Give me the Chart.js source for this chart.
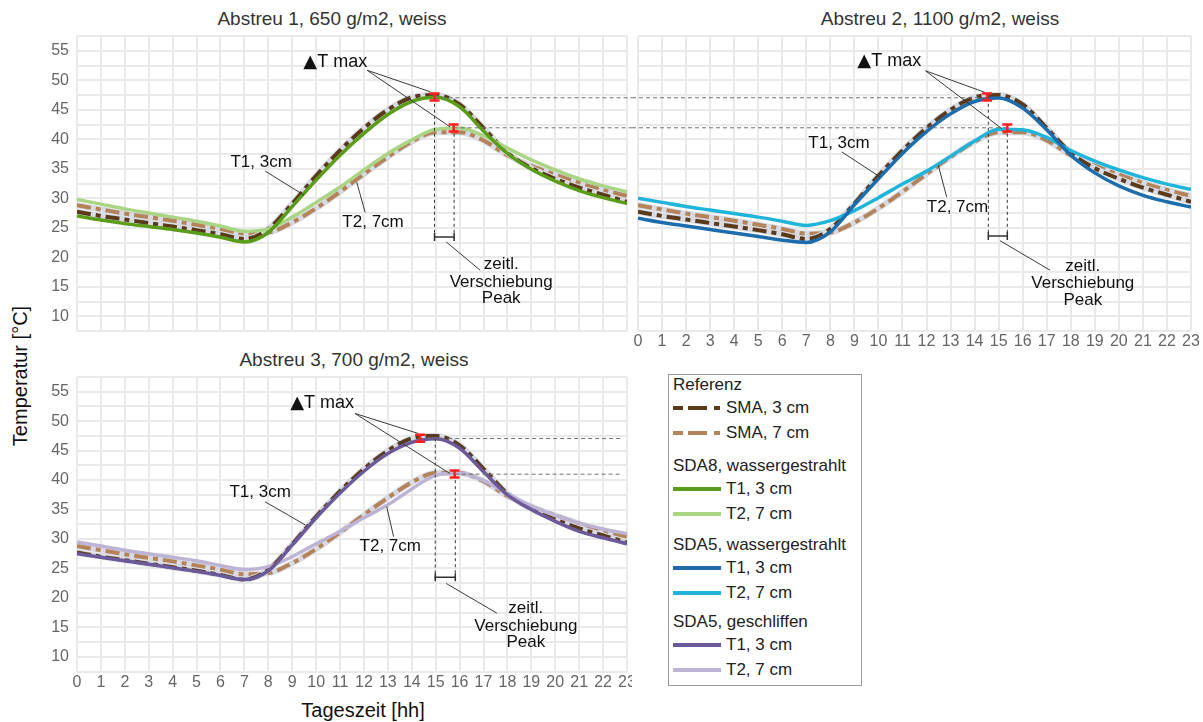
<!DOCTYPE html>
<html>
<head>
<meta charset="utf-8">
<title>Temperaturverlauf Abstreu</title>
<script src="https://cdn.jsdelivr.net/npm/chart.js@4.4.1/dist/chart.umd.min.js"></script>
<style>
  body { margin: 0; background: #fff; font-family: "Liberation Sans", Arial, sans-serif; }
  #page { position: relative; width: 1203px; height: 722px; overflow: hidden; }
  #page canvas { position: absolute; }
  .lbl { position: absolute; white-space: nowrap; transform: translate(-50%, -50%); }
  .ttl { font-size: 19px; color: #333; }
  .axt { font-size: 20px; color: #111; }
  #legend { position: absolute; left: 668px; top: 374px; width: 194px; height: 312px;
            border: 1px solid #9a9a9a; box-sizing: border-box; font-size: 17px; color: #222; }
  .lg-h { height: 20px; line-height: 20px; padding-left: 4px; white-space: nowrap; }
  .lg-i { height: 25px; display: flex; align-items: center; padding-left: 4px; white-space: nowrap; }
  .lg-i svg { margin-right: 5px; }
</style>
</head>
<body>
<div id="page">
  <div class="lbl ttl" style="left:332px;top:19px">Abstreu 1, 650 g/m2, weiss</div>
  <div class="lbl ttl" style="left:940px;top:19px">Abstreu 2, 1100 g/m2, weiss</div>
  <div class="lbl ttl" style="left:354px;top:360px">Abstreu 3, 700 g/m2, weiss</div>
  <div class="lbl axt" style="left:20px;top:376px;transform:translate(-50%,-50%) rotate(-90deg)">Temperatur [°C]</div>
  <div class="lbl axt" style="left:363px;top:710px">Tageszeit [hh]</div>

  <canvas id="c1" width="632" height="345" style="left:0;top:0"></canvas>
  <canvas id="c2" width="571" height="350" style="left:632px;top:0"></canvas>
  <canvas id="c3" width="632" height="377" style="left:0;top:345px"></canvas>

  <div id="legend"></div>
</div>

<script>
// hours of the day
const hours = [0, 1, 2, 3, 4, 5, 6, 7, 8, 9, 10, 11, 12, 13, 14, 15, 16, 17, 18, 19, 20, 21, 22, 23];

// Referenz SMA (same in all three panels)
const sma3 = [27.7, 27.0, 26.4, 25.8, 25.2, 24.6, 23.9, 23.1, 24.8, 29.1, 33.8, 38.1, 41.9, 45.0, 47.1, 47.5, 45.9, 41.9, 37.7, 35.1, 33.3, 31.8, 30.6, 29.4];
const sma7 = [28.8, 28.1, 27.4, 26.8, 26.2, 25.5, 24.8, 24.0, 24.2, 25.9, 28.3, 31.1, 34.1, 37.0, 39.6, 41.2, 41.2, 39.8, 37.3, 35.5, 34.0, 32.6, 31.4, 30.4];

// Abstreu 1 - SDA8, wassergestrahlt
const sda8T1 = [27.0, 26.3, 25.7, 25.2, 24.7, 24.1, 23.4, 22.6, 24.2, 28.6, 33.1, 37.3, 41.0, 44.2, 46.4, 47.1, 45.5, 41.4, 37.6, 34.9, 32.9, 31.3, 30.1, 29.1];
const sda8T2 = [29.8, 29.0, 28.2, 27.5, 26.8, 26.1, 25.3, 24.4, 24.8, 26.8, 29.3, 31.9, 34.8, 37.6, 39.9, 41.7, 41.9, 40.6, 38.5, 36.5, 34.8, 33.3, 32.1, 31.1];

// Abstreu 2 - SDA5, wassergestrahlt
const sda5wT1 = [26.6, 25.9, 25.3, 24.7, 24.1, 23.5, 22.9, 22.5, 24.3, 28.9, 33.3, 37.6, 41.3, 44.3, 46.4, 47.0, 45.3, 41.6, 37.3, 34.3, 32.1, 30.5, 29.4, 28.5];
const sda5wT2 = [30.0, 29.3, 28.6, 28.0, 27.4, 26.8, 26.1, 25.4, 26.2, 27.9, 30.1, 32.4, 34.6, 37.1, 39.7, 41.7, 41.6, 40.3, 38.1, 36.3, 34.8, 33.5, 32.4, 31.5];

// Abstreu 3 - SDA5, geschliffen
const sda5gT1 = [27.5, 26.9, 26.3, 25.7, 25.1, 24.5, 23.8, 23.1, 24.6, 29.0, 33.6, 37.8, 41.5, 44.5, 46.4, 47.0, 45.4, 41.4, 37.5, 35.0, 33.0, 31.3, 30.2, 29.2];
const sda5gT2 = [29.5, 28.8, 28.1, 27.5, 26.9, 26.3, 25.5, 24.8, 25.3, 27.0, 29.2, 31.3, 33.6, 35.8, 38.5, 40.8, 41.2, 39.9, 37.7, 35.6, 34.0, 32.7, 31.7, 30.9];

const yTickLabels = [10, 15, 20, 25, 30, 35, 40, 45, 50, 55];

const colors = {
    sma3: '#5b3a1c', sma7: '#b5835a', halo: '#d7dae2',
    sda8T1: '#5b9c1a', sda8T2: '#a9d585',
    sda5wT1: '#1d6cab', sda5wT2: '#1fb4da',
    sda5gT1: '#6b5a99', sda5gT2: '#bdb3d4'
};

const FONT = '"Liberation Sans", "DejaVu Sans", Arial, sans-serif';
Chart.defaults.font.family = FONT;

// annotation anchors, in data units (hours, °C)
const notes1 = {
    tmax: { at: [10.8, 53.1], from: [12.13, 51.7], to: [[14.77, 48.05], [15.6, 42.1]] },
    marks: [[14.95, 47.15], [15.75, 41.9]],
    level: [{ y: 47.03, x0: 14.95, x1: 'right' }, { y: 41.94, x0: 15.75, x1: 'right' }],
    drop: { x: [14.95, 15.77], top: [47.03, 41.94], bottom: 23.0, bar: 23.45 },
    shift: { from: [15.44, 22.6], to: [16.86, 17.8], at: [17.74, [18.8, 15.8, 13.0]] },
    t1: { at: [7.7, 36.1], from: [7.87, 34.6], to: [9.5, 30.5] },
    t2: { at: [12.38, 25.9], from: [12.05, 27.6], to: [11.7, 32.7] }
};
const notes2 = {
    tmax: { at: [10.45, 53.25], from: [11.96, 51.6], to: [[14.43, 47.94], [15.13, 41.8]] },
    marks: [[14.52, 47.15], [15.36, 41.9]],
    level: [{ y: 47.03, x0: 'left', x1: 14.57 }, { y: 41.94, x0: 'left', x1: 15.36 }],
    drop: { x: [14.57, 15.36], top: [47.03, 41.94], bottom: 23.2, bar: 23.6 },
    shift: { from: [15.06, 22.8], to: [17.14, 17.8], at: [18.5, [18.5, 15.6, 12.7]] },
    t1: { at: [8.36, 39.3], from: [8.47, 37.87], to: [10.07, 33.6] },
    t2: { at: [13.29, 28.5], from: [12.84, 30.2], to: [12.49, 35.6] }
};
const notes3 = {
    tmax: { at: [10.25, 53.1], from: [11.63, 51.3], to: [[14.28, 47.9], [15.6, 41.1]] },
    marks: [[14.35, 47.1], [15.79, 41.05]],
    level: [{ y: 47.05, x0: 14.35, x1: 22.72 }, { y: 41.0, x0: 15.79, x1: 22.72 }],
    drop: { x: [14.98, 15.82], top: [47.05, 41.0], bottom: 23.0, bar: 23.5 },
    shift: { from: [15.44, 22.45], to: [17.56, 17.4], at: [18.77, [18.27, 15.2, 12.5]] },
    t1: { at: [7.66, 38.0], from: [7.87, 36.3], to: [9.54, 32.4] },
    t2: { at: [13.1, 28.7], from: [13.24, 30.4], to: [12.95, 35.5] }
};

// draws the ΔT max / peak shift annotations
const notesPlugin = {
    id: 'notes',
    afterDatasetsDraw(chart, args, n) {
        if (!n || !n.tmax) return;
        const ctx = chart.ctx, sx = chart.scales.x, sy = chart.scales.y;
        const px = h => h === 'left' ? 0 : (h === 'right' ? chart.width : sx.getPixelForValue(h));
        const py = v => sy.getPixelForValue(v);
        const seg = (a, b) => {
            ctx.beginPath();
            ctx.moveTo(px(a[0]), py(a[1]));
            ctx.lineTo(px(b[0]), py(b[1]));
            ctx.stroke();
        };
        ctx.save();

        // horizontal dashed level lines
        ctx.strokeStyle = '#707070';
        ctx.lineWidth = 1;
        ctx.setLineDash([4, 3]);
        n.level.forEach(l => seg([l.x0, l.y], [l.x1, l.y]));

        // vertical dashed drop lines
        ctx.strokeStyle = '#333';
        ctx.setLineDash([3, 3]);
        n.drop.x.forEach((h, i) => seg([h, n.drop.top[i]], [h, n.drop.bottom]));
        ctx.setLineDash([]);

        // peak shift bar
        ctx.lineWidth = 1.5;
        const bx0 = px(n.drop.x[0]), bx1 = px(n.drop.x[1]), by = py(n.drop.bar);
        ctx.beginPath();
        ctx.moveTo(bx0, by); ctx.lineTo(bx1, by);
        ctx.moveTo(bx0, by - 4); ctx.lineTo(bx0, by + 4);
        ctx.moveTo(bx1, by - 4); ctx.lineTo(bx1, by + 4);
        ctx.stroke();

        // leader lines
        ctx.strokeStyle = '#3a3a3a';
        ctx.lineWidth = 1;
        n.tmax.to.forEach(t => seg(n.tmax.from, t));
        seg(n.shift.from, n.shift.to);
        seg(n.t1.from, n.t1.to);
        seg(n.t2.from, n.t2.to);

        // red peak markers
        ctx.strokeStyle = '#ff1f1f';
        ctx.lineWidth = 2.5;
        n.marks.forEach(m => {
            const x = px(m[0]), y = py(m[1]);
            ctx.beginPath();
            ctx.moveTo(x - 5, y - 3.5); ctx.lineTo(x + 5, y - 3.5);
            ctx.moveTo(x - 5, y + 3.5); ctx.lineTo(x + 5, y + 3.5);
            ctx.moveTo(x, y - 3.5); ctx.lineTo(x, y + 3.5);
            ctx.stroke();
        });

        // texts
        ctx.fillStyle = '#111';
        ctx.textBaseline = 'middle';
        ctx.textAlign = 'left';
        const tri = '18px "DejaVu Sans", sans-serif', tt = '18px ' + FONT;
        ctx.font = tri;
        const wTri = ctx.measureText('▲').width;
        ctx.font = tt;
        const wTxt = ctx.measureText('T max').width;
        const tx = px(n.tmax.at[0]) - (wTri + wTxt) / 2, ty = py(n.tmax.at[1]);
        ctx.font = tri;
        ctx.fillText('▲', tx, ty);
        ctx.font = tt;
        ctx.fillText('T max', tx + wTri, ty);

        ctx.textAlign = 'center';
        ctx.font = '17px ' + FONT;
        ctx.fillText('T1, 3cm', px(n.t1.at[0]), py(n.t1.at[1]));
        ctx.fillText('T2, 7cm', px(n.t2.at[0]), py(n.t2.at[1]));
        ['zeitl.', 'Verschiebung', 'Peak'].forEach((s, i) => {
            ctx.fillText(s, px(n.shift.at[0]), py(n.shift.at[1][i]));
        });
        ctx.restore();
    }
};

function lineSet(data, color, width, dash, order) {
    return {
        data: data, borderColor: color, borderWidth: width, borderDash: dash || [],
        pointRadius: 0, fill: false, cubicInterpolationMode: 'monotone', order: order
    };
}

function makePanel(id, t1, t2, c1, c2, notes, box) {
    const datasets = [
        lineSet(t1, c1, 3.5, null, 0),
        lineSet(t2, c2, 3.5, null, 1),
        lineSet(sma3, colors.sma3, 4, [14, 5, 5, 5], 2),
        lineSet(sma3, colors.halo, 6, null, 3),
        lineSet(sma7, colors.sma7, 4, [14, 5, 5, 5], 4),
        lineSet(sma7, colors.halo, 6, null, 5)
    ];
    return new Chart(document.getElementById(id), {
        type: 'line',
        data: { labels: hours, datasets: datasets },
        plugins: [notesPlugin],
        options: {
            responsive: false,
            animation: false,
            events: [],
            layout: { autoPadding: false, padding: box.padding },
            plugins: { legend: { display: false }, tooltip: { enabled: false }, notes: notes },
            scales: {
                x: {
                    type: 'linear', min: 0, max: 23,
                    grid: { color: '#e9e9e9', lineWidth: 2, drawTicks: false },
                    border: { display: false },
                    ticks: {
                        display: box.showX, stepSize: 1, autoSkip: false, maxRotation: 0,
                        padding: 1, color: '#666', font: { size: 16 }
                    },
                    afterFit: s => { s.height = box.xH; s.paddingLeft = 0; s.paddingRight = 0; }
                },
                y: {
                    min: 7.5, max: 57.5,
                    grid: { color: '#e9e9e9', lineWidth: 2, drawTicks: false },
                    border: { display: false },
                    ticks: {
                        display: box.showY, stepSize: 2.5, autoSkip: false, padding: 8,
                        color: '#666', font: { size: 16 },
                        callback: v => yTickLabels.includes(v) ? String(v) : ''
                    },
                    afterFit: s => { s.width = box.yW; s.paddingTop = 0; s.paddingBottom = 0; }
                }
            }
        }
    });
}

makePanel('c1', sda8T1, sda8T2, colors.sda8T1, colors.sda8T2, notes1,
    { padding: { top: 36, right: 5, bottom: 0, left: 0 }, showX: false, showY: true, xH: 14, yW: 77 });
makePanel('c2', sda5wT1, sda5wT2, colors.sda5wT1, colors.sda5wT2, notes2,
    { padding: { top: 36, right: 12, bottom: 0, left: 0 }, showX: true, showY: false, xH: 19, yW: 6 });
makePanel('c3', sda5gT1, sda5gT2, colors.sda5gT1, colors.sda5gT2, notes3,
    { padding: { top: 32, right: 5, bottom: 0, left: 0 }, showX: true, showY: true, xH: 50.5, yW: 77 });

// legend box
const legendGroups = [
    { title: 'Referenz', items: [['SMA, 3 cm', colors.sma3, true], ['SMA, 7 cm', colors.sma7, true]], gap: 0 },
    { title: 'SDA8, wassergestrahlt', items: [['T1, 3 cm', colors.sda8T1], ['T2, 7 cm', colors.sda8T2]], gap: 11 },
    { title: 'SDA5, wassergestrahlt', items: [['T1, 3 cm', colors.sda5wT1], ['T2, 7 cm', colors.sda5wT2]], gap: 9 },
    { title: 'SDA5, geschliffen', items: [['T1, 3 cm', colors.sda5gT1], ['T2, 7 cm', colors.sda5gT2]], gap: 7 }
];
const legend = document.getElementById('legend');
legendGroups.forEach(g => {
    const h = document.createElement('div');
    h.className = 'lg-h';
    h.style.marginTop = g.gap + 'px';
    h.textContent = g.title;
    legend.appendChild(h);
    g.items.forEach(it => {
        const row = document.createElement('div');
        row.className = 'lg-i';
        const dash = it[2] ? ' stroke-dasharray="10 5 19 7 6"' : '';
        row.innerHTML = '<svg width="48" height="8"><line x1="0" y1="4" x2="48" y2="4" stroke="' + it[1] +
            '" stroke-width="4"' + dash + '/></svg>';
        const t = document.createElement('span');
        t.textContent = it[0];
        row.appendChild(t);
        legend.appendChild(row);
    });
});
</script>
</body>
</html>
